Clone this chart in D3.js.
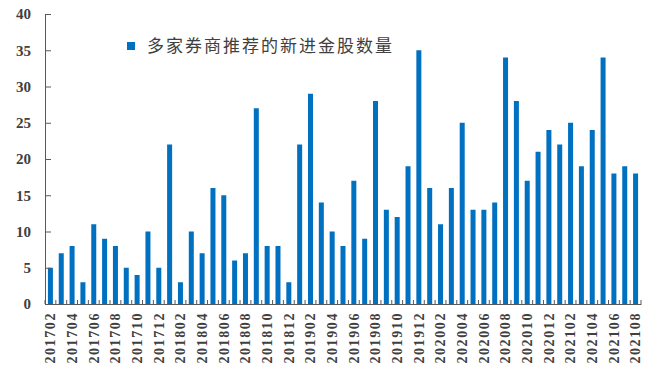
<!DOCTYPE html>
<html>
<head>
<meta charset="utf-8">
<script src="https://cdn.jsdelivr.net/npm/d3@7"></script>
<style>
  body { margin: 0; background: #fff; }
  svg { display: block; }
  .axis text { font-family: "Liberation Serif", "Times New Roman", serif; fill: #404040; }
</style>
</head>
<body>
<div id="grafica"></div>
<script>
// datos: meses y numero de nuevos "金股"
const meses = [
  "201702","201703","201704","201705","201706","201707","201708","201709","201710","201711","201712",
  "201801","201802","201803","201804","201805","201806","201807","201808","201809","201810","201811","201812",
  "201901","201902","201903","201904","201905","201906","201907","201908","201909","201910","201911","201912",
  "202001","202002","202003","202004","202005","202006","202007","202008","202009","202010","202011","202012",
  "202101","202102","202103","202104","202105","202106","202107","202108"
];
const valores = [
  5, 7, 8, 3, 11, 9, 8, 5, 4, 10, 5,
  22, 3, 10, 7, 16, 15, 6, 7, 27, 8, 8, 3,
  22, 29, 14, 10, 8, 17, 9, 28, 13, 12, 19, 35,
  16, 11, 16, 25, 13, 13, 14, 34, 28, 17, 21, 24,
  22, 25, 19, 24, 34, 18, 19, 18
];
const yTicks = [0, 5, 10, 15, 20, 25, 30, 35, 40];
const leyenda = "多家券商推荐的新进金股数量";

const data = meses.map((m, i) => ({ mes: m, valor: valores[i] }));

const W = 648, H = 378;
const margin = { top: 14, right: 7, bottom: 74, left: 45 };
const innerW = W - margin.left - margin.right;
const innerH = H - margin.top - margin.bottom;

const svg = d3.select("#grafica")
  .append("svg")
  .attr("width", W)
  .attr("height", H);

const g = svg.append("g")
  .attr("transform", `translate(${margin.left}, ${margin.top})`);

// escaladores
const x = d3.scaleBand().domain(meses).range([0, innerW]).padding(0);
const y = d3.scaleLinear().domain([0, 40]).range([innerH, 0]);

const barW = 5;

// barras
g.selectAll("rect.bar")
  .data(data)
  .enter()
  .append("rect")
  .attr("class", "bar")
  .attr("x", d => x(d.mes) + x.bandwidth() / 2 - barW / 2)
  .attr("y", d => y(d.valor))
  .attr("width", barW)
  .attr("height", d => innerH - y(d.valor))
  .attr("fill", "#0070C0");

// eje y
const yAxis = g.append("g")
  .attr("class", "axis")
  .call(d3.axisLeft(y).tickValues(yTicks).tickSize(-6).tickSizeOuter(0).tickPadding(14));
yAxis.select(".domain").attr("stroke", "#595959");
yAxis.selectAll(".tick line").attr("stroke", "#595959");
yAxis.selectAll("text").attr("font-size", 15).attr("font-weight", "bold").attr("fill", "#404040");

// eje x
const xAxis = g.append("g")
  .attr("class", "axis")
  .attr("transform", `translate(0, ${innerH})`)
  .call(d3.axisBottom(x).tickValues(meses.filter((d, i) => i % 2 === 0)).tickSize(0).tickSizeOuter(0));
xAxis.select(".domain").attr("stroke", "#595959");
xAxis.selectAll("text")
  .attr("font-size", 14)
  .attr("letter-spacing", "1.6px")
  .attr("font-weight", "bold")
  .attr("fill", "#404040")
  .attr("text-anchor", "end")
  .attr("dy", "0.35em")
  .attr("transform", "translate(0, 8) rotate(-90)")
  .attr("x", 0)
  .attr("y", 0);

// marcas entre categorias
const bordes = meses.map(m => x(m)).concat([innerW]);
g.append("g")
  .selectAll("line")
  .data(bordes)
  .enter()
  .append("line")
  .attr("x1", d => d)
  .attr("x2", d => d)
  .attr("y1", innerH)
  .attr("y2", innerH - 4)
  .attr("stroke", "#595959");

// leyenda
const leg = svg.append("g").attr("transform", "translate(127, 42)");
leg.append("rect")
  .attr("width", 8)
  .attr("height", 8)
  .attr("fill", "#0070C0");
leg.append("text")
  .attr("x", 20)
  .attr("y", 4)
  .attr("dy", "0.35em")
  .attr("font-family", "'Noto Sans CJK SC', sans-serif")
  .attr("font-size", 17)
  .attr("letter-spacing", "2px")
  .attr("fill", "#404040")
  .text(leyenda);
</script>
</body>
</html>
